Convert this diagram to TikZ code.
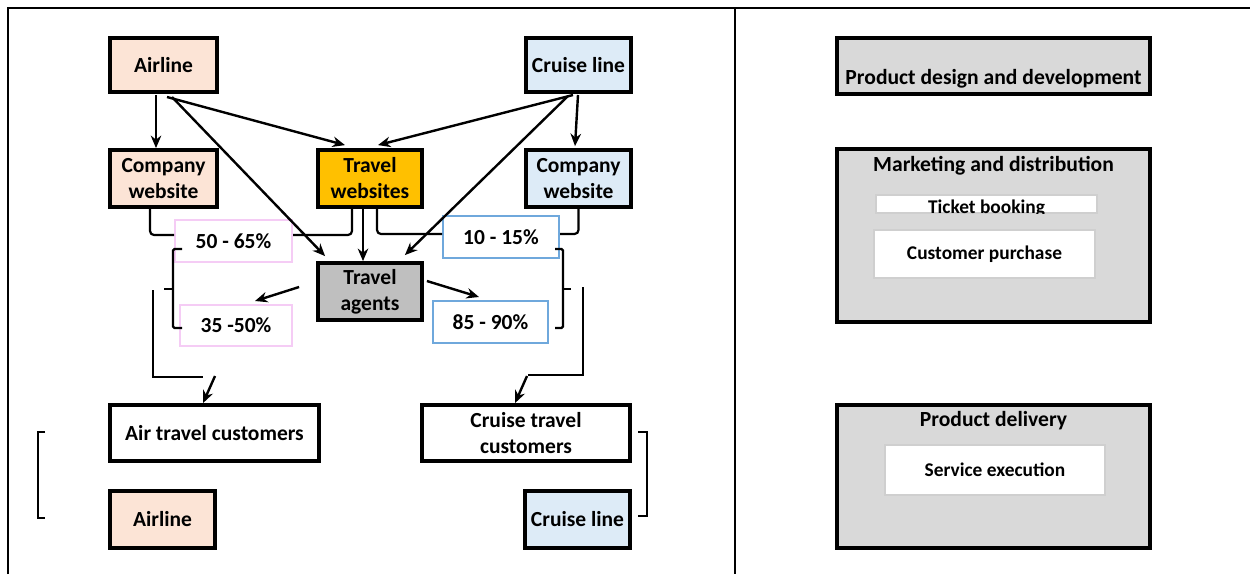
\documentclass[tikz,border=0pt]{standalone}
\usepackage{fontspec}
\setmainfont{Carlito}
\usetikzlibrary{arrows.meta,calc}
\definecolor{peach}{HTML}{FCE4D6}
\definecolor{paleblue}{HTML}{DDEBF7}
\definecolor{gold}{HTML}{FFC000}
\definecolor{agentgray}{HTML}{BFBFBF}
\definecolor{panelgray}{HTML}{D9D9D9}
\definecolor{pinkline}{HTML}{F5CCF5}
\definecolor{blueline}{HTML}{6FA8DC}
\definecolor{softline}{HTML}{CFCFCF}
\tikzset{
  box/.style={draw=black, line width=3.8pt, inner sep=0pt, align=center,
    font=\fontsize{21.5}{26}\selectfont\bfseries},
  share/.style={draw, line width=2pt, fill=white, inner sep=0pt, align=center,
    font=\fontsize{21.5}{26}\selectfont\bfseries},
  panel/.style={draw=black, line width=3.8pt, fill=panelgray, inner sep=0pt},
  inner/.style={draw=softline, line width=1.5pt, fill=white, inner sep=0pt, align=center,
    font=\fontsize{19.4}{22}\selectfont\bfseries},
  title/.style={inner sep=0pt, font=\fontsize{21.6}{25}\selectfont\bfseries},
  arr/.style={line width=2.4pt, -{Stealth[length=12.5pt,width=10.5pt]}},
  link/.style={line width=2.2pt, rounded corners=4pt},
  thin/.style={line width=1.3pt},
}
\begin{document}
\begin{tikzpicture}[x=1pt,y=-1pt]
\useasboundingbox (0,0) rectangle (1250,574);

% table frame
\draw[line width=2pt] (8,574) -- (8,8) -- (1250,8);
\draw[line width=2pt] (735,8) -- (735,574);

% left column: channels
\node[box, fill=peach, minimum width=107, minimum height=54] (airT) at (163.5,65) {Airline};
\node[box, fill=paleblue, minimum width=105, minimum height=54] (cruT) at (578.5,65) {Cruise line};
\node[box, fill=peach, minimum width=107, minimum height=57] (cwL) at (163.5,178.5) {Company\\website};
\node[box, fill=gold, minimum width=104, minimum height=57] (tw) at (370,178.5) {Travel\\websites};
\node[box, fill=paleblue, minimum width=105, minimum height=57] (cwR) at (578.5,178.5) {Company\\website};
\node[box, fill=agentgray, minimum width=104, minimum height=57] (ta) at (370,291.5) {Travel\\agents};

% distribution shares
\node[share, draw=pinkline, minimum width=117, minimum height=42] (p1) at (233.5,241) {50 - 65\%};
\node[share, draw=pinkline, minimum width=112, minimum height=41] (p2) at (236,325.5) {35 -50\%};
\node[share, draw=blueline, minimum width=116, minimum height=42] (p3) at (501,237) {10 - 15\%};
\node[share, draw=blueline, minimum width=115, minimum height=42] (p4) at (490.5,322) {85 - 90\%};

% customers and suppliers
\node[box, fill=white, minimum width=209, minimum height=56] (atc) at (214.5,433) {Air travel customers};
\node[box, fill=white, minimum width=208, minimum height=56] (ctc) at (526,433) {Cruise travel\\customers};
\node[box, fill=peach, minimum width=105, minimum height=57] (airB) at (162.5,519.5) {Airline};
\node[box, fill=paleblue, minimum width=105, minimum height=57] (cruB) at (577.5,519.5) {Cruise line};

% arrows out of the suppliers
\coordinate (a0) at (156,95);
\coordinate (a1) at (167,97);
\coordinate (a2) at (172,97);
\coordinate (c1) at (573,95);
\coordinate (c2) at (568,96);
\coordinate (c3) at (578,95);
\draw[arr] (a0) -- ([xshift=-7.5pt]cwL.north);
\draw[arr] (a1) -- ($(tw.north)+(-25,-3)$);
\draw[arr] (a2) -- ($(ta.north west)+(9,-5)$);
\draw[arr] (c1) -- ($(tw.north)+(8,-3)$);
\draw[arr] (c2) -- ($(ta.north east)+(-19,-6)$);
\draw[arr] (c3) -- ($(cwR.north)+(-3.5,-2)$);
\draw[arr] ([xshift=-7pt]tw.south) -- ([xshift=-7pt]ta.north);

% arrows out of the travel agents
\draw[arr] ($(ta.west)+(-17,-4.5)$) -- ($(p2.north)+(19,-3)$);
\draw[arr] ($(ta.east)+(3,-10.5)$) -- ($(p4.north)+(-11.5,-3)$);

% links joining the online channels to their shares
\draw[link] ([xshift=-13.5pt]cwL.south) |- ([yshift=6pt]p1.west);
\draw[link] ([yshift=6pt]p1.east) -| ([xshift=-18pt]tw.south);
\draw[link] ([xshift=7pt]tw.south) |- ([yshift=3pt]p3.west);
\draw[link] ([yshift=3pt]p3.east) -| (cwR.south);

% braces grouping the shares
\draw[line width=2.2pt, rounded corners=1.5pt] (182,249) -| (173,328) -- (182,328);
\draw[line width=2.2pt] (164,289) -- (173,289);
\draw[line width=2.2pt, rounded corners=1.5pt] (555,249) -| (563,328) -- (555,328);
\draw[line width=2.2pt] (563,289) -- (571,289);

% elbows leading to the customers
\coordinate (le) at (215,376);
\coordinate (re) at (527,376);
\draw[thin] (153,290) |- (203,377);
\draw[thin] (583,287) |- (528,375);
\draw[arr] (le) -- ([xshift=-11.5pt]atc.north);
\draw[arr] (re) -- ([xshift=-11pt]ctc.north);

% square brackets beside the bottom rows
\draw[thin] (45,432) -- (38,432) -- (38,518) -- (45,518);
\draw[thin] (638,432) -- (647,432) -- (647,516) -- (638,516);

% right column: value chain stages
\node[panel, minimum width=313, minimum height=56] (pdd) at (993.5,66) {};
\node[title] (pddT) at (993.5,79) {Product design and development};

\node[panel, minimum width=313, minimum height=173] (mkt) at (993.5,235.5) {};
\node[title] (mktT) at (993.5,165.5) {Marketing and distribution};
\node[inner, minimum width=221, minimum height=18] (tb) at (986.5,204) {};
\begin{scope}
  \clip (876,195) rectangle (1097,213);
  \node[inner sep=0pt, font=\fontsize{19.4}{22}\selectfont\bfseries] (tbT) at (986.5,208) {Ticket booking};
\end{scope}
\node[inner, minimum width=221, minimum height=48] (cp) at (984.5,254) {Customer purchase};

\node[panel, minimum width=313, minimum height=143] (pdl) at (993.5,476.5) {};
\node[title] (pdlT) at (993.5,420.5) {Product delivery};
\node[inner, minimum width=220, minimum height=50] (se) at (995,470) {Service execution};
\end{tikzpicture}
\end{document}
